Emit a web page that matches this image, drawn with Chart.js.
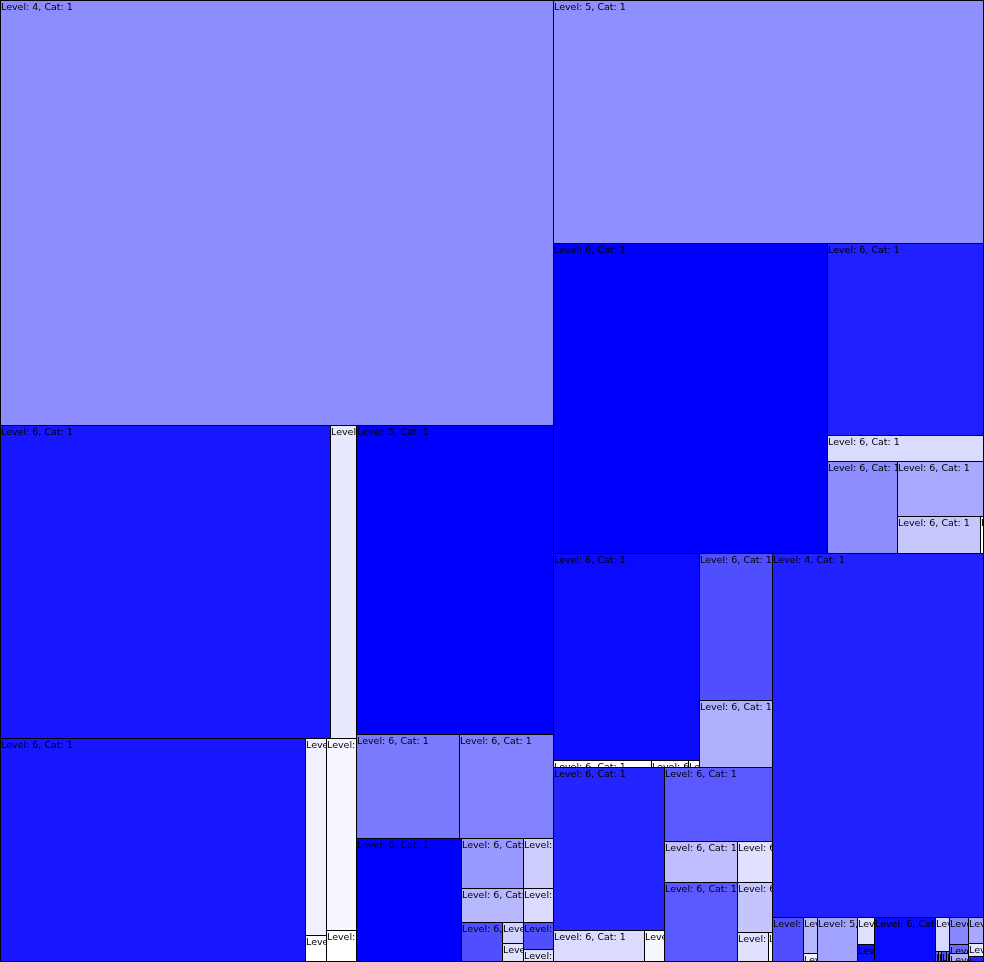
<!DOCTYPE html>
<html><head><meta charset="utf-8">
<script src="https://cdn.jsdelivr.net/npm/chart.js@4.4.1/dist/chart.umd.min.js"></script>
<style>html,body{margin:0;padding:0;background:#fff;overflow:hidden}canvas{display:block}</style>
</head><body>
<canvas id="c" width="984" height="962"></canvas>
<script>
// Leaf levels and categories (label text "Level: n, Cat: c")
const levels = [4,6,6,6,6,6,6,6,5,6,6,6,6,6,6,6,6,6,6,6,6,
                5,6,6,6,6,6,6,6,6,6,6,6,6,6,6,6,6,6,6,6,6,6,6,6,
                4,6,6,6,5,6,6,6,6,6,6,6,6,6,6,6,6,6,6];
const cats = levels.map(() => 1);
// Leaf sizes (area values)
const values = [2350,1033,81,683,41,5.7,58,9.6,609,107,98,130,31,21,15,10,16.4,4.4,4.0,8.1,3.9,
                1047,849,301,42,64,47,31,1.5,302,6.9,2.6,0.8,107,49,181,29,6.4,80,30,14,58,17.5,9.3,1.2,
                772,14,5.0,1.3,18.5,4.6,3.1,27.5,4.8,0.33,0.33,0.55,0.33,5.1,1.7,1.7,4.2,2.1,1.0];
// Leaf colour values (0 = white, 1 = full blue)
const shades = [0.45,0.91,0.09,0.91,0.06,0.0,0.03,0.0,1.0,0.52,0.49,1.0,0.40,0.28,0.20,0.14,0.69,0.18,0.12,0.69,0.12,
                0.44,1.0,0.88,0.14,0.45,0.34,0.22,0.0,0.96,0.0,0.0,0.01,0.69,0.31,0.86,0.14,0.03,0.65,0.25,0.12,0.65,0.23,0.12,0.02,
                0.87,0.69,0.28,0.06,0.37,0.12,0.94,0.96,0.15,0.6,0.55,0.7,0.6,0.47,0.58,0.31,0.34,0.1,0.87];
// Grouping of leaves (indices into the arrays above)
const hierarchy = [
  [0, [ [[1,2],[3,[4,5],[6,7]]],
        [8, [9,10], [11, [[[12,13],[14,15]], [16,[17,18],[19,20]]]]] ]],
  [21,
   [22, [23, 24, [25, [26, [27, 28]]]]],
   [ [ [[29,[30,31,32]], [33,34]],
       [[35,[36,37]], [38, [39,40], [41,[42,[43,44]]]]] ],
     [45, [46,[47,48],49,[50,51],52,[53,[54,55,56,57]],[58,59,60],[61,62,63]]] ]]
];
const labels = levels.map((l, i) => 'Level: ' + l + ', Cat: ' + cats[i]);

function total(node) {
  return Array.isArray(node) ? node.reduce((s, n) => s + total(n), 0) : values[node];
}
function layout(node, x0, y0, x1, y1, W, H, out) {
  if (!Array.isArray(node)) { out.push({i: node, x0, y0, x1, y1}); return; }
  const sum = total(node);
  const horiz = (x1 - x0) * W >= (y1 - y0) * H; // split along the longer side
  let acc = 0;
  node.forEach(child => {
    const a = acc / sum, b = (acc + total(child)) / sum;
    acc += total(child);
    if (horiz) layout(child, x0 + (x1 - x0) * a, y0, x0 + (x1 - x0) * b, y1, W, H, out);
    else layout(child, x0, y0 + (y1 - y0) * a, x1, y0 + (y1 - y0) * b, W, H, out);
  });
}
function shadeColor(t) {
  const c = Math.round(255 * (1 - t));
  return 'rgb(' + c + ',' + c + ',255)';
}

const treemapPlugin = {
  id: 'treemap',
  afterDatasetsDraw(chart) {
    const ctx = chart.ctx, xs = chart.scales.x, ys = chart.scales.y;
    const area = chart.chartArea;
    const W = area.right - area.left, H = area.bottom - area.top;
    const rects = [];
    layout(hierarchy, 0, 0, 1, 1, W, H, rects);
    ctx.save();
    rects.forEach(r => {
      const px0 = Math.round(xs.getPixelForValue(r.x0));
      const px1 = Math.round(xs.getPixelForValue(r.x1));
      const py0 = Math.round(ys.getPixelForValue(r.y0));
      const py1 = Math.round(ys.getPixelForValue(r.y1));
      ctx.fillStyle = shadeColor(shades[r.i]);
      ctx.fillRect(px0, py0, px1 - px0, py1 - py0);
      ctx.strokeStyle = '#000';
      ctx.lineWidth = 1;
      const ex = Math.min(px1, area.right - 1), ey = Math.min(py1, area.bottom - 1);
      ctx.strokeRect(px0 + 0.5, py0 + 0.5, ex - px0, ey - py0);
      ctx.save();
      ctx.beginPath();
      ctx.rect(px0 + 1, py0 + 1, px1 - px0 - 1, py1 - py0 - 1);
      ctx.clip();
      ctx.fillStyle = '#000';
      ctx.font = '9.5px "DejaVu Sans"';
      ctx.textBaseline = 'alphabetic';
      ctx.textAlign = 'left';
      ctx.fillText(labels[r.i], px0 + 1, py0 + 10);
      ctx.restore();
    });
    ctx.restore();
  }
};

new Chart(document.getElementById('c'), {
  type: 'scatter',
  data: { datasets: [{ data: [], pointRadius: 0 }] },
  options: {
    responsive: false,
    animation: false,
    layout: { padding: 0 },
    scales: {
      x: { type: 'linear', min: 0, max: 1, display: false },
      y: { type: 'linear', min: 0, max: 1, reverse: true, display: false }
    },
    plugins: { legend: { display: false }, tooltip: { enabled: false } }
  },
  plugins: [treemapPlugin]
});
</script>
</body></html>
